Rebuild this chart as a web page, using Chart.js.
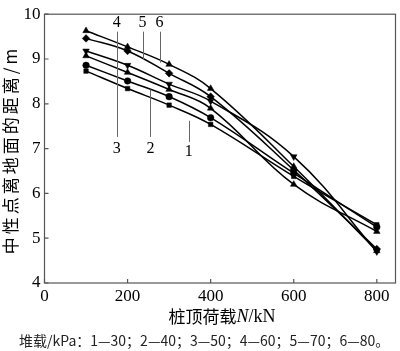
<!DOCTYPE html>
<html><head><meta charset="utf-8">
<script src="https://cdn.jsdelivr.net/npm/chart.js@4/dist/chart.umd.min.js"></script>
<style>html,body{margin:0;padding:0;background:#fff;}#wrap{position:relative;width:400px;height:351px;}</style>
</head><body><div id="wrap"><canvas id="c" width="400" height="351"></canvas></div>
<script>
// ---- data ----
const loads = [100, 200, 300, 400, 600, 800];          // 桩顶荷载 N/kN
const s1 = [8.73, 8.34, 7.97, 7.54, 6.38, 5.30];        // 堆载 30 kPa
const s2 = [8.86, 8.51, 8.16, 7.69, 6.45, 5.25];        // 40 kPa
const s3 = [9.07, 8.70, 8.32, 7.90, 6.20, 5.15];        // 50 kPa
const s4 = [9.46, 9.18, 8.68, 8.16, 6.52, 4.76];        // 60 kPa
const s5 = [9.18, 8.86, 8.44, 8.06, 6.82, 4.70];        // 70 kPa
const s6 = [9.63, 9.27, 8.88, 8.34, 6.60, 4.72];        // 80 kPa
const seriesNames = ['1', '2', '3', '4', '5', '6'];
const pressures = [30, 40, 50, 60, 70, 80];
const xTicks = [0, 200, 400, 600, 800];
const yTicks = [4, 5, 6, 7, 8, 9, 10];
const yTitle = '中性点离地面的距离/m';
const xTitleParts = ['桩顶荷载', 'N', '/kN'];
const noteText = '堆载/kPa：' + seriesNames.map((n, i) => n + '—' + pressures[i]).join('；') + '。';
// label leader lines (data units): [label, x, yFrom, yTo, labelY]
const leaders = [
  ['4', 174, 9.61, 8.95, 9.80],
  ['5', 236, 9.61, 8.98, 9.80],
  ['6', 277, 9.61, 8.92, 9.80],
  ['3', 174, 7.26, 8.95, 7.00],
  ['2', 255, 7.26, 8.32, 7.00],
  ['1', 347, 7.15, 7.62, 6.93]
];

const allSeries = [s1, s2, s3, s4, s5, s6];
const styles = [
  {pointStyle: 'rect', r: 3.2, rot: 0},
  {pointStyle: 'circle', r: 3.3, rot: 0},
  {pointStyle: 'triangle', r: 3.8, rot: 0},
  {pointStyle: 'rectRot', r: 3.8, rot: 0},
  {pointStyle: 'triangle', r: 3.8, rot: 180},
  {pointStyle: 'triangle', r: 3.8, rot: 0}
];
const datasets = allSeries.map((s, i) => ({
  label: seriesNames[i],
  data: loads.map((x, j) => ({x: x, y: s[j]})),
  borderColor: '#000',
  backgroundColor: '#000',
  borderWidth: 1.5,
  pointStyle: styles[i].pointStyle,
  pointRadius: styles[i].r,
  pointRotation: styles[i].rot,
  pointBorderWidth: 0.5,
  tension: 0.4,
  fill: false,
  clip: false
}));

const deco = {
  id: 'deco',
  afterDraw(chart) {
    const ctx = chart.ctx, a = chart.chartArea;
    const xs = chart.scales.x, ys = chart.scales.y;
    ctx.save();
    // frame
    ctx.strokeStyle = '#555'; ctx.lineWidth = 1.2;
    ctx.strokeRect(a.left, a.top, a.right - a.left, a.bottom - a.top);
    // inward ticks
    ctx.beginPath();
    xTicks.forEach(v => { const p = xs.getPixelForValue(v); ctx.moveTo(p, a.bottom); ctx.lineTo(p, a.bottom - 4); });
    yTicks.forEach(v => { const p = ys.getPixelForValue(v); ctx.moveTo(a.left, p); ctx.lineTo(a.left + 4, p); });
    ctx.stroke();
    // leaders
    ctx.strokeStyle = '#666'; ctx.lineWidth = 1;
    ctx.beginPath();
    leaders.forEach(l => {
      const px = Math.round(xs.getPixelForValue(l[1])) + 0.5;
      ctx.moveTo(px, ys.getPixelForValue(l[2])); ctx.lineTo(px, ys.getPixelForValue(l[3]));
    });
    ctx.stroke();
    ctx.fillStyle = '#000';
    ctx.font = '16px "Liberation Serif"';
    ctx.textAlign = 'center'; ctx.textBaseline = 'middle';
    leaders.forEach(l => ctx.fillText(l[0], xs.getPixelForValue(l[1]), ys.getPixelForValue(l[4])));
    // y title
    ctx.save();
    ctx.translate(11, 150);
    ctx.rotate(-Math.PI / 2);
    ctx.font = '17px "Noto Sans CJK SC"';
    ctx.letterSpacing = '3px';
    ctx.fillText(yTitle, 0, 0);
    ctx.restore();
    // x title
    ctx.textAlign = 'left'; ctx.textBaseline = 'middle';
    const f1 = '17px "Noto Sans CJK SC"', f2 = 'italic 18px "Liberation Serif"', f3 = '18px "Liberation Serif"';
    const fonts = [f1, f2, f3];
    let w = 0;
    xTitleParts.forEach((t, i) => { ctx.font = fonts[i]; w += ctx.measureText(t).width; });
    let x0 = 222 - w / 2;
    xTitleParts.forEach((t, i) => { ctx.font = fonts[i]; ctx.fillText(t, x0, 317); x0 += ctx.measureText(t).width; });
    // note
    ctx.font = '14px "Noto Sans CJK SC"';
    ctx.fillStyle = '#222';
    ctx.fillText(noteText, 19, 341);
    ctx.restore();
  }
};

new Chart(document.getElementById('c'), {
  type: 'line',
  data: {datasets: datasets},
  options: {
    responsive: false, animation: false, devicePixelRatio: 1,
    layout: {padding: {top: 5, right: 3.3, left: 0, bottom: 0}},
    plugins: {legend: {display: false}, tooltip: {enabled: false}},
    scales: {
      x: {
        type: 'linear', min: 0, max: 845,
        afterBuildTicks: s => { s.ticks = xTicks.map(v => ({value: v})); },
        afterFit: s => { s.height = 68; },
        grid: {display: false, drawTicks: false},
        border: {display: false},
        ticks: {padding: 3, color: '#000', font: {family: 'Liberation Serif', size: 17}}
      },
      y: {
        type: 'linear', min: 4, max: 10,
        afterBuildTicks: s => { s.ticks = yTicks.map(v => ({value: v})); },
        afterFit: s => { s.width = 44.5; },
        grid: {display: false, drawTicks: false},
        border: {display: false},
        ticks: {padding: 4, color: '#000', font: {family: 'Liberation Serif', size: 17}}
      }
    }
  },
  plugins: [deco]
});
</script>
</body></html>
